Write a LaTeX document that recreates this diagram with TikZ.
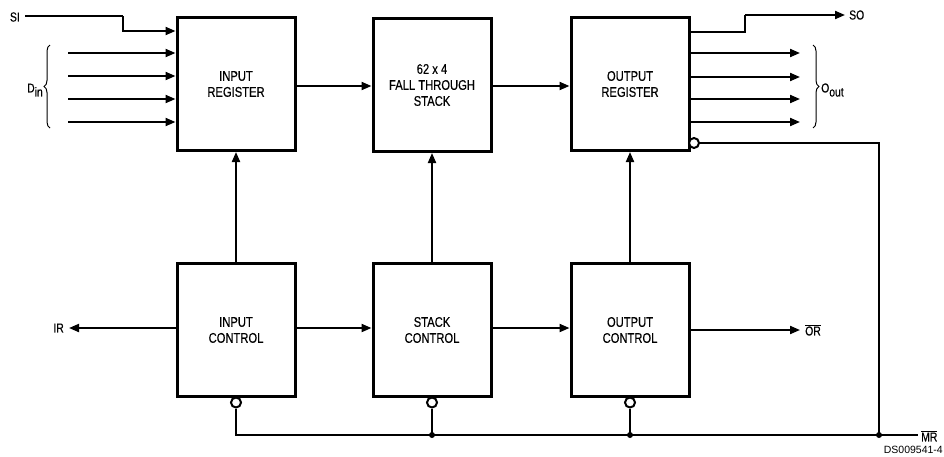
\documentclass[tikz,border=0pt]{standalone}
\usepackage{fontspec}
\setmainfont{Liberation Sans}[FakeStretch=0.8,FakeBold=0.4]
\newfontfamily\plainsans{Liberation Sans}
\usetikzlibrary{arrows.meta,decorations.pathreplacing,calc}
\begin{document}
\begin{tikzpicture}[x=1pt,y=-1pt,
  blk/.style={draw,line width=3pt,minimum width=118pt,minimum height=133pt,inner sep=0pt,align=center,font=\fontsize{14}{16}\selectfont},
  wire/.style={line width=2pt},
  arr/.style={wire,-{Triangle[length=10pt,width=8pt]}},
  bub/.style={circle,draw,line width=2pt,minimum size=10pt,inner sep=0pt,fill=white},
  jdot/.style={circle,fill,minimum size=6pt,inner sep=0pt},
  lbl/.style={font=\fontsize{13}{15}\selectfont,inner sep=0pt},
  brc/.style={decorate,decoration={brace,amplitude=6pt},line width=1pt}]
\useasboundingbox (0,0) rectangle (944,456);

% blocks
\node[blk] (ireg) at (236,84) {INPUT\\REGISTER};
\node[blk] (stk) at (432,85) {62 x 4\\FALL THROUGH\\STACK};
\node[blk] (oreg) at (630,84) {OUTPUT\\REGISTER};
\node[blk] (ictl) at (236,330) {INPUT\\CONTROL};
\node[blk] (sctl) at (432,330) {STACK\\CONTROL};
\node[blk] (octl) at (630,330) {OUTPUT\\CONTROL};

% SI
\node[lbl,anchor=east] (si) at (20,17) {SI};
\coordinate (si1) at (123,16);
\draw[wire] ([xshift=5pt]si.east |- 0,16) -- (si1);
\draw[arr] (si1) |- (ireg.west |- 0,31);

% D_in
\foreach \i/\y in {1/53,2/76,3/99,4/122}{
  \coordinate (d\i) at (68,\y);
  \draw[arr] (d\i) -- (ireg.west |- d\i);
}
\draw[brc] (50,128) -- (50,45);
\node[lbl,anchor=east] (din) at (43,90) {D\raisebox{-4pt}{in}};

% register chain
\draw[arr] (ireg.east |- 0,86) -- (stk.west |- 0,86);
\draw[arr] (stk.east |- 0,86) -- (oreg.west |- 0,86);

% SO
\node[lbl,anchor=west] (so) at (849,15) {SO};
\coordinate (so1) at (745,15);
\draw[wire] (oreg.east |- 0,32) -| (so1);
\draw[arr] (so1) -- ([xshift=-4pt]so.west);

% O_out
\foreach \i/\y in {1/53,2/77,3/99,4/122}{
  \coordinate (o\i) at (800,\y);
  \draw[arr] (oreg.east |- o\i) -- (o\i);
}
\draw[brc] (813,45) -- (813,128);
\node[lbl,anchor=west] (oout) at (821,90) {O\raisebox{-4pt}{out}};

% control to register
\draw[arr] (ictl.north) -- (ireg.south);
\draw[arr] (sctl.north) -- (stk.south);
\draw[arr] (octl.north) -- (oreg.south);

% control chain
\draw[arr] (ictl.east |- 0,328) -- (sctl.west |- 0,328);
\draw[arr] (sctl.east |- 0,328) -- (octl.west |- 0,328);

% IR
\node[lbl,anchor=east] (ir) at (64,328) {IR};
\draw[arr] (ictl.west |- 0,328) -- ([xshift=5pt]ir.east);

% OR
\node[lbl,anchor=west] (orl) at (805,330) {$\overline{\hbox{OR}}$};
\draw[arr] (octl.east |- 0,330) -- ([xshift=-5pt]orl.west);

% MR
\node[bub] (rb) at (694,143) {};
\node[bub,anchor=north] (b1) at ([yshift=1.5pt]ictl.south) {};
\node[bub,anchor=north] (b2) at ([yshift=1.5pt]sctl.south) {};
\node[bub,anchor=north] (b3) at ([yshift=1.5pt]octl.south) {};
\node[jdot] (j2) at (sctl.south |- 0,435) {};
\node[jdot] (j3) at (octl.south |- 0,435) {};
\node[jdot] (j4) at (879,435) {};
\coordinate (mrend) at (918,435);
\node[lbl,anchor=west] (mr) at (921,436) {$\overline{\hbox{MR}}$};
\draw[wire] (b1.south) |- (mrend);
\draw[wire] (b2.south) -- (j2.center);
\draw[wire] (b3.south) -- (j3.center);
\draw[wire] (rb.east) -| (j4.center);

\node[anchor=east,inner sep=0pt,font=\plainsans\fontsize{10.5}{12}\selectfont] (ds) at (943,450) {DS009541-4};
\end{tikzpicture}
\end{document}
